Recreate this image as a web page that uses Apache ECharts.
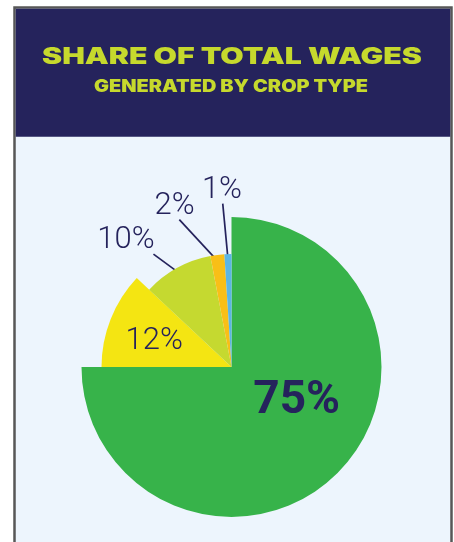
<!DOCTYPE html>
<html><head><meta charset="utf-8">
<script src="https://cdn.jsdelivr.net/npm/echarts@6/dist/echarts.min.js"></script>
<style>html,body{margin:0;padding:0;background:#fff}#c{width:454px;height:542px}</style>
</head><body><div id="c"></div>
<script>
// ---- data ----
const categories = ['Crop type 1', 'Crop type 2', 'Crop type 3', 'Crop type 4', 'Crop type 5'];
const shares = [75, 12, 10, 2, 1];
const shareLabels = ['75%', '12%', '10%', '2%', '1%'];
const titleText = 'SHARE OF TOTAL WAGES';
const subtitleText = 'GENERATED BY CROP TYPE';

// ---- style ----
const sliceColors = ['#37B34A', '#F4E512', '#C5D930', '#F9BF17', '#5CB6E4'];
const navy = '#25235C';
const center = [231.5, 367];
const tiers = [
  { radius: 150, items: [0] },
  { radius: 130, items: [1] },
  { radius: 113, items: [2, 3, 4] }
];
const labelStyle = {
  0: { position: 'inside', fontSize: 46, fontWeight: 'bold', dx: 10, dy: -21 },
  1: { position: 'inside', fontSize: 31, fontWeight: 300, dx: -14, dy: -1 },
  2: { position: 'outside', fontSize: 31, fontWeight: 300, dx: -3, dy: -1, fx: 0.98, gy: -2, k: 0.94 },
  3: { position: 'outside', fontSize: 31, fontWeight: 300, dx: -14, dy: -19, fx: 0.62, gy: -2, k: 0.94 },
  4: { position: 'outside', fontSize: 31, fontWeight: 300, dx: 20, dy: -34, fx: 0.52, gy: -2, k: 0.94 }
};

function fitScale(text, font, targetWidth) {
  const ctx = document.createElement('canvas').getContext('2d');
  ctx.font = font;
  return targetWidth / ctx.measureText(text).width;
}
const titleFont = '900 23px Inter';
const subFont = '900 17px Inter';

const series = tiers.map((tier, si) => ({
  type: 'pie',
  center: center,
  radius: [0, tier.radius],
  startAngle: 90,
  clockwise: true,
  avoidLabelOverlap: false,
  silent: true,
  animation: false,
  emphasis: { disabled: true },
  itemStyle: { borderWidth: 0 },
  data: shares.map((v, i) => {
    const own = tier.items.includes(i);
    const ls = labelStyle[i];
    return {
      name: categories[i],
      value: v,
      itemStyle: { color: own ? sliceColors[i] : 'rgba(0,0,0,0)', borderWidth: 0 },
      label: {
        show: own,
        position: ls.position,
        formatter: () => shareLabels[i],
        color: navy,
        fontFamily: 'Roboto',
        fontSize: ls.fontSize,
        fontWeight: ls.fontWeight
      },
      labelLine: {
        show: own && ls.position === 'outside',
        length: 30,
        length2: 0,
        lineStyle: { color: navy, width: 1.7 }
      }
    };
  }),
  labelLayout: (p) => {
    const own = tiers[p.seriesIndex].items.includes(p.dataIndex);
    if (!own) return {};
    const ls = labelStyle[p.dataIndex];
    const out = { dx: ls.dx, dy: ls.dy };
    if (ls.position === 'outside' && p.labelLinePoints) {
      const e = p.labelLinePoints[0];
      const start = [center[0] + (e[0] - center[0]) * ls.k, center[1] + (e[1] - center[1]) * ls.k];
      const r = p.labelRect;
      const end = [r.x + ls.dx + r.width * ls.fx, r.y + ls.dy + r.height + ls.gy];
      out.labelLinePoints = [start, end];
    }
    return out;
  }
}));

const chart = echarts.init(document.getElementById('c'), null, { renderer: 'canvas' });
chart.setOption({
  backgroundColor: '#ffffff',
  animation: false,
  graphic: [
    { type: 'rect', silent: true, z: -10, shape: { x: 14.5, y: 7.5, width: 437, height: 600 },
      style: { fill: '#EDF5FD', stroke: '#575757', lineWidth: 2.5 } },
    { type: 'rect', silent: true, z: -9, shape: { x: 15.75, y: 8.75, width: 434.5, height: 128 },
      style: { fill: '#25235C' } },
    { type: 'text', silent: true, z: 10, x: 232, y: 57.5, scaleX: fitScale(titleText, titleFont, 380),
      style: { text: titleText, textAlign: 'center', textVerticalAlign: 'middle',
        font: titleFont, fill: '#C6D92D' } },
    { type: 'text', silent: true, z: 10, x: 231, y: 87, scaleX: fitScale(subtitleText, subFont, 274),
      style: { text: subtitleText, textAlign: 'center', textVerticalAlign: 'middle',
        font: subFont, fill: '#C6D92D' } }
  ],
  series: series
});
</script>
</body></html>
